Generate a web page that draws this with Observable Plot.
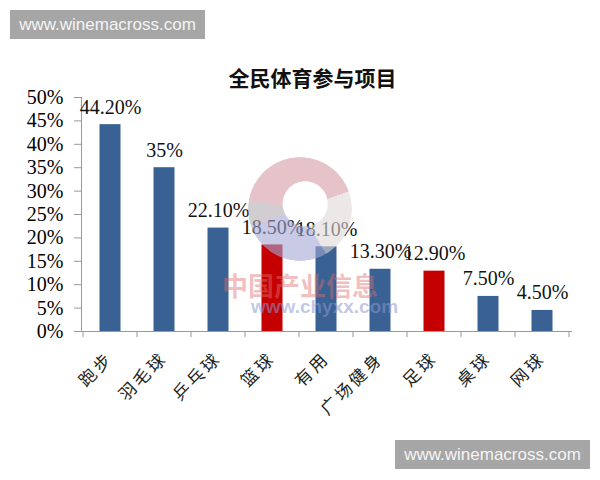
<!DOCTYPE html>
<html>
<head>
<meta charset="utf-8">
<script src="https://cdn.jsdelivr.net/npm/d3@7"></script>
<script src="https://cdn.jsdelivr.net/npm/@observablehq/plot@0.6"></script>
<style>
  html, body { margin: 0; padding: 0; background: #fff; }
  #wrap { position: relative; width: 600px; height: 480px; overflow: hidden; }
  .wm { position: absolute; background: #a6a6a6; color: #f4f4f4; font-family: "Liberation Sans", Arial, sans-serif; font-size: 17px; line-height: 29px; text-align: center; width: 195px; height: 29px; }
  .ring { position: absolute; left: 248px; top: 157px; width: 104px; height: 104px; border-radius: 50%;
    background: conic-gradient(from -80deg, #d49ca6 0deg, #d49ca6 150deg, #e0dada 150deg, #e0dada 230deg, #a4a8d6 230deg, #a4a8d6 330deg, #b3adb3 330deg, #b3adb3 360deg);
    -webkit-mask: radial-gradient(circle at 55% 45%, transparent 22px, #000 23px);
    mask: radial-gradient(circle at 55% 45%, transparent 22px, #000 23px);
    opacity: 0.6; pointer-events: none; }
  .cn { position: absolute; font-family: "Noto Sans CJK SC", sans-serif; font-weight: 700; pointer-events: none; }
  g[aria-label="x-axis tick label"] text { letter-spacing: 3px; }
</style>
</head>
<body>
<div id="wrap"></div>
<script>
const categories = ["跑步", "羽毛球", "乒乓球", "篮球", "有用", "广场健身", "足球", "桌球", "网球"];
const values = [0.442, 0.35, 0.221, 0.185, 0.181, 0.133, 0.129, 0.075, 0.045];
const valueLabels = ["44.20%", "35%", "22.10%", "18.50%", "18.10%", "13.30%", "12.90%", "7.50%", "4.50%"];
const highlighted = ["篮球", "足球"];
const yTicks = [0, 0.05, 0.10, 0.15, 0.20, 0.25, 0.30, 0.35, 0.40, 0.45, 0.50];
const title = "全民体育参与项目";

const data = categories.map((c, i) => ({cat: c, value: values[i], label: valueLabels[i], hi: highlighted.includes(c)}));

const serif = "'Liberation Serif', 'Times New Roman', serif";
const cjk = "'Noto Sans CJK SC', sans-serif";

const chart = Plot.plot({
  width: 600,
  height: 480,
  marginTop: 97,
  marginBottom: 149,
  marginLeft: 81,
  marginRight: 29,
  style: {background: "#fff", color: "#000"},
  x: {domain: categories, padding: 0},
  y: {domain: [0, 0.5]},
  marks: [
    Plot.axisY({ticks: yTicks, tickFormat: d3.format(".0%"), tickSize: 7, tickPadding: 11, stroke: "#999", fontSize: 20, fontFamily: serif, fill: "#000", label: null}),
    Plot.frame({anchor: "left", stroke: "#999"}),
    Plot.barY(data, {x: "cat", y: "value", fill: d => d.hi ? "#c40000" : "#3a6193", insetLeft: 16.5, insetRight: 16.5}),
    Plot.frame({anchor: "bottom", stroke: "#999"}),
    Plot.text(data, {x: "cat", y: "value", text: "label", lineAnchor: "bottom", dy: -11, fontSize: 20, fontFamily: serif, fill: "#111"}),
    Plot.axisX({tickSize: 0, tickPadding: 24, tickRotate: -45, fontSize: 17, fontFamily: cjk, fill: "#222", label: null}),
    Plot.text([title], {frameAnchor: "top", dx: -14, dy: -18, lineAnchor: "middle", fontSize: 21, fontWeight: "bold", fontFamily: cjk, fill: "#111", style: "letter-spacing:3px"})
  ]
});

// tick marks at band boundaries, placed via the chart's x scale
const xs = chart.scale("x");
const bounds = categories.map(c => xs.apply(c)).concat([xs.apply(categories[categories.length - 1]) + xs.bandwidth]);
const y0 = chart.scale("y").apply(0);
d3.select(chart).append("g").attr("stroke", "#999")
  .selectAll("line").data(bounds).join("line")
  .attr("x1", d => d).attr("x2", d => d).attr("y1", y0).attr("y2", y0 + 6);

const wrap = document.getElementById("wrap");
wrap.appendChild(chart);
chart.style.position = "absolute";
chart.style.left = "0px";
chart.style.top = "0px";

// watermarks from the source image
wrap.insertAdjacentHTML("beforeend", `
  <div class="ring"></div>
  <div class="cn" style="left:222px;top:266px;font-size:26px;color:rgba(224,110,110,0.45);">中国产业信息</div>
  <div class="cn" style="left:251px;top:296px;font-size:19px;color:rgba(140,150,205,0.55);font-family:'Liberation Sans',sans-serif;">www.chyxx.com</div>
  <div class="wm" style="left:10px;top:10px;">www.winemacross.com</div>
  <div class="wm" style="left:395px;top:440px;">www.winemacross.com</div>
`);
</script>
</body>
</html>
